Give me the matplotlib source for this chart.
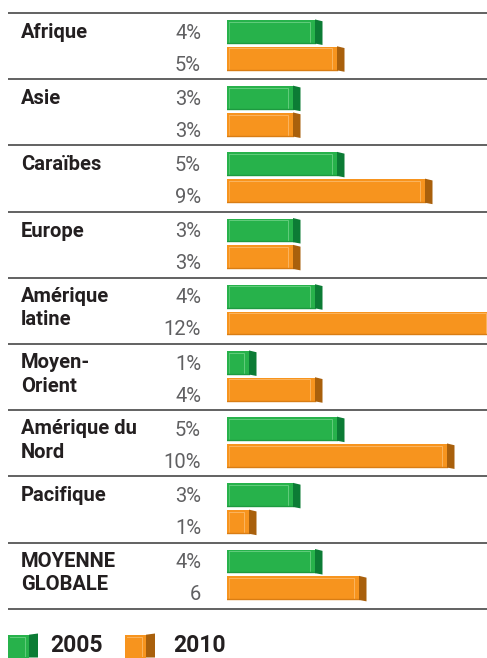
import matplotlib
matplotlib.use("Agg")
import matplotlib.pyplot as plt
from matplotlib.patches import Rectangle, Polygon

# ---- data ----
categories = ["Afrique", "Asie", "Caraïbes", "Europe", "Amérique\nlatine",
              "Moyen-\nOrient", "Amérique du\nNord", "Pacifique", "MOYENNE\nGLOBALE"]
values_2005 = [4, 3, 5, 3, 4, 1, 5, 3, 4]
values_2010 = [5, 3, 9, 3, 12, 4, 10, 1, 6]
labels_2005 = ["4%", "3%", "5%", "3%", "4%", "1%", "5%", "3%", "4%"]
labels_2010 = ["5%", "3%", "9%", "3%", "12%", "4%", "10%", "1%", "6"]
series_names = ["2005", "2010"]

# ---- styling ----
W, H = 487, 658
DPI = 100
PITCH = 66.2          # px per group
TOP = 13.0            # px of first rule
PX_PER_UNIT = 22.0    # px per percent
BAR_X0 = 227.0
CAP = 7.5             # px of 3D side

green = dict(face="#27b24b", side="#0c7c35", light="#62cc7c", dark="#1d9a40")
orange = dict(face="#f7941e", side="#a9600c", light="#fbb560", dark="#d97d14")

plt.rcParams['font.family'] = ['Roboto', 'DejaVu Sans']

fig = plt.figure(figsize=(W / DPI, H / DPI), dpi=DPI)
ylim = ((H - TOP) / PITCH, -TOP / PITCH)

# text / layout axes in pixel x, group-unit y
tax = fig.add_axes([0, 0, 1, 1])
tax.set_xlim(0, W)
tax.set_ylim(*ylim)
tax.axis("off")

# bar axes: x in percent
bax = fig.add_axes([BAR_X0 / W, 0, (W - BAR_X0) / W, 1])
bax.set_xlim(0, (W - BAR_X0) / PX_PER_UNIT)
bax.set_ylim(*ylim)
bax.axis("off")

px = 1.0 / PX_PER_UNIT      # one pixel in bar-x units
py = 1.0 / PITCH            # one pixel in y units
bar_h = 23.5 * py
g_center = 18.8 * py
o_center = 45.6 * py

CAT_SIZE = 14.5
PCT_SIZE = 14.5
PCT_COLOR = "#606062"
CAT_COLOR = "#231f20"


def draw_bar(ax, y, v, col):
    top = y - bar_h / 2
    bot = y + bar_h / 2
    bars = ax.barh([y], [v], height=bar_h, left=0, color=col["face"],
                   edgecolor="none", zorder=2)
    # bevel highlights
    ax.plot([1.5 * px, v - 5 * px, v - 5 * px], [top + 1.6 * py, top + 1.6 * py, bot - 1.6 * py],
            color=col["light"], lw=0.7, zorder=3, solid_joinstyle="miter")
    ax.plot([1.5 * px, 1.5 * px], [top + 1.6 * py, bot - 1.6 * py], color=col["light"], lw=0.5, zorder=3)
    ax.plot([0, v], [bot - 0.8 * py, bot - 0.8 * py], color=col["dark"], lw=1.0, zorder=3)
    side = Polygon([(v, top - 0.6 * py), (v + CAP * px, top + 1.2 * py),
                    (v + CAP * px, bot + 1.4 * py), (v, bot)],
                   closed=True, facecolor=col["side"], edgecolor="none", zorder=3)
    ax.add_patch(side)
    return bars


for i, cat in enumerate(categories):
    draw_bar(bax, i + g_center, values_2005[i], green)
    draw_bar(bax, i + o_center, values_2010[i], orange)
    # percent labels
    tax.text(201, i + 25.5 * py, labels_2005[i], ha="right", va="baseline",
             fontsize=PCT_SIZE, fontweight="normal", color=PCT_COLOR)
    tax.text(201, i + 57.5 * py, labels_2010[i], ha="right", va="baseline",
             fontsize=PCT_SIZE, fontweight="normal", color=PCT_COLOR)
    # category label
    lines = cat.split("\n")
    if len(lines) == 1:
        tax.text(21, i + 25.0 * py, lines[0], ha="left", va="baseline",
                 fontsize=CAT_SIZE, fontweight="bold", color=CAT_COLOR)
    else:
        tax.text(21, i + 24.0 * py, lines[0], ha="left", va="baseline",
                 fontsize=CAT_SIZE, fontweight="bold", color=CAT_COLOR)
        tax.text(21, i + 47.5 * py, lines[1], ha="left", va="baseline",
                 fontsize=CAT_SIZE, fontweight="bold", color=CAT_COLOR)

# separator rules
for k in range(len(categories) + 1):
    tax.plot([8, W], [k, k], color="#555555", lw=1.3, zorder=4,
             solid_capstyle="butt")

# legend
leg_y0 = (633.5 - TOP) / PITCH
leg_y1 = (657.5 - TOP) / PITCH
for x0, col, name, tx in [(8, green, series_names[0], 50), (125, orange, series_names[1], 173)]:
    tax.add_patch(Rectangle((x0, leg_y0 + 1.2 * py), 21, leg_y1 - leg_y0 - 1.2 * py,
                            facecolor=col["face"], edgecolor="none", zorder=2))
    tax.plot([x0 + 1.5, x0 + 17, x0 + 17], [leg_y0 + 3 * py, leg_y0 + 3 * py, leg_y1 - 1.5 * py],
             color=col["light"], lw=0.7, zorder=3)
    tax.add_patch(Polygon([(x0 + 21, leg_y0 + 1.2 * py), (x0 + 30, leg_y0),
                           (x0 + 30, leg_y1), (x0 + 21, leg_y1)],
                          closed=True, facecolor=col["side"], edgecolor="none", zorder=3))
    tax.text(tx, (652 - TOP) / PITCH, name, ha="left", va="baseline",
             fontsize=16.5, fontweight="bold", color=CAT_COLOR)

fig.savefig("out.png", dpi=DPI)
